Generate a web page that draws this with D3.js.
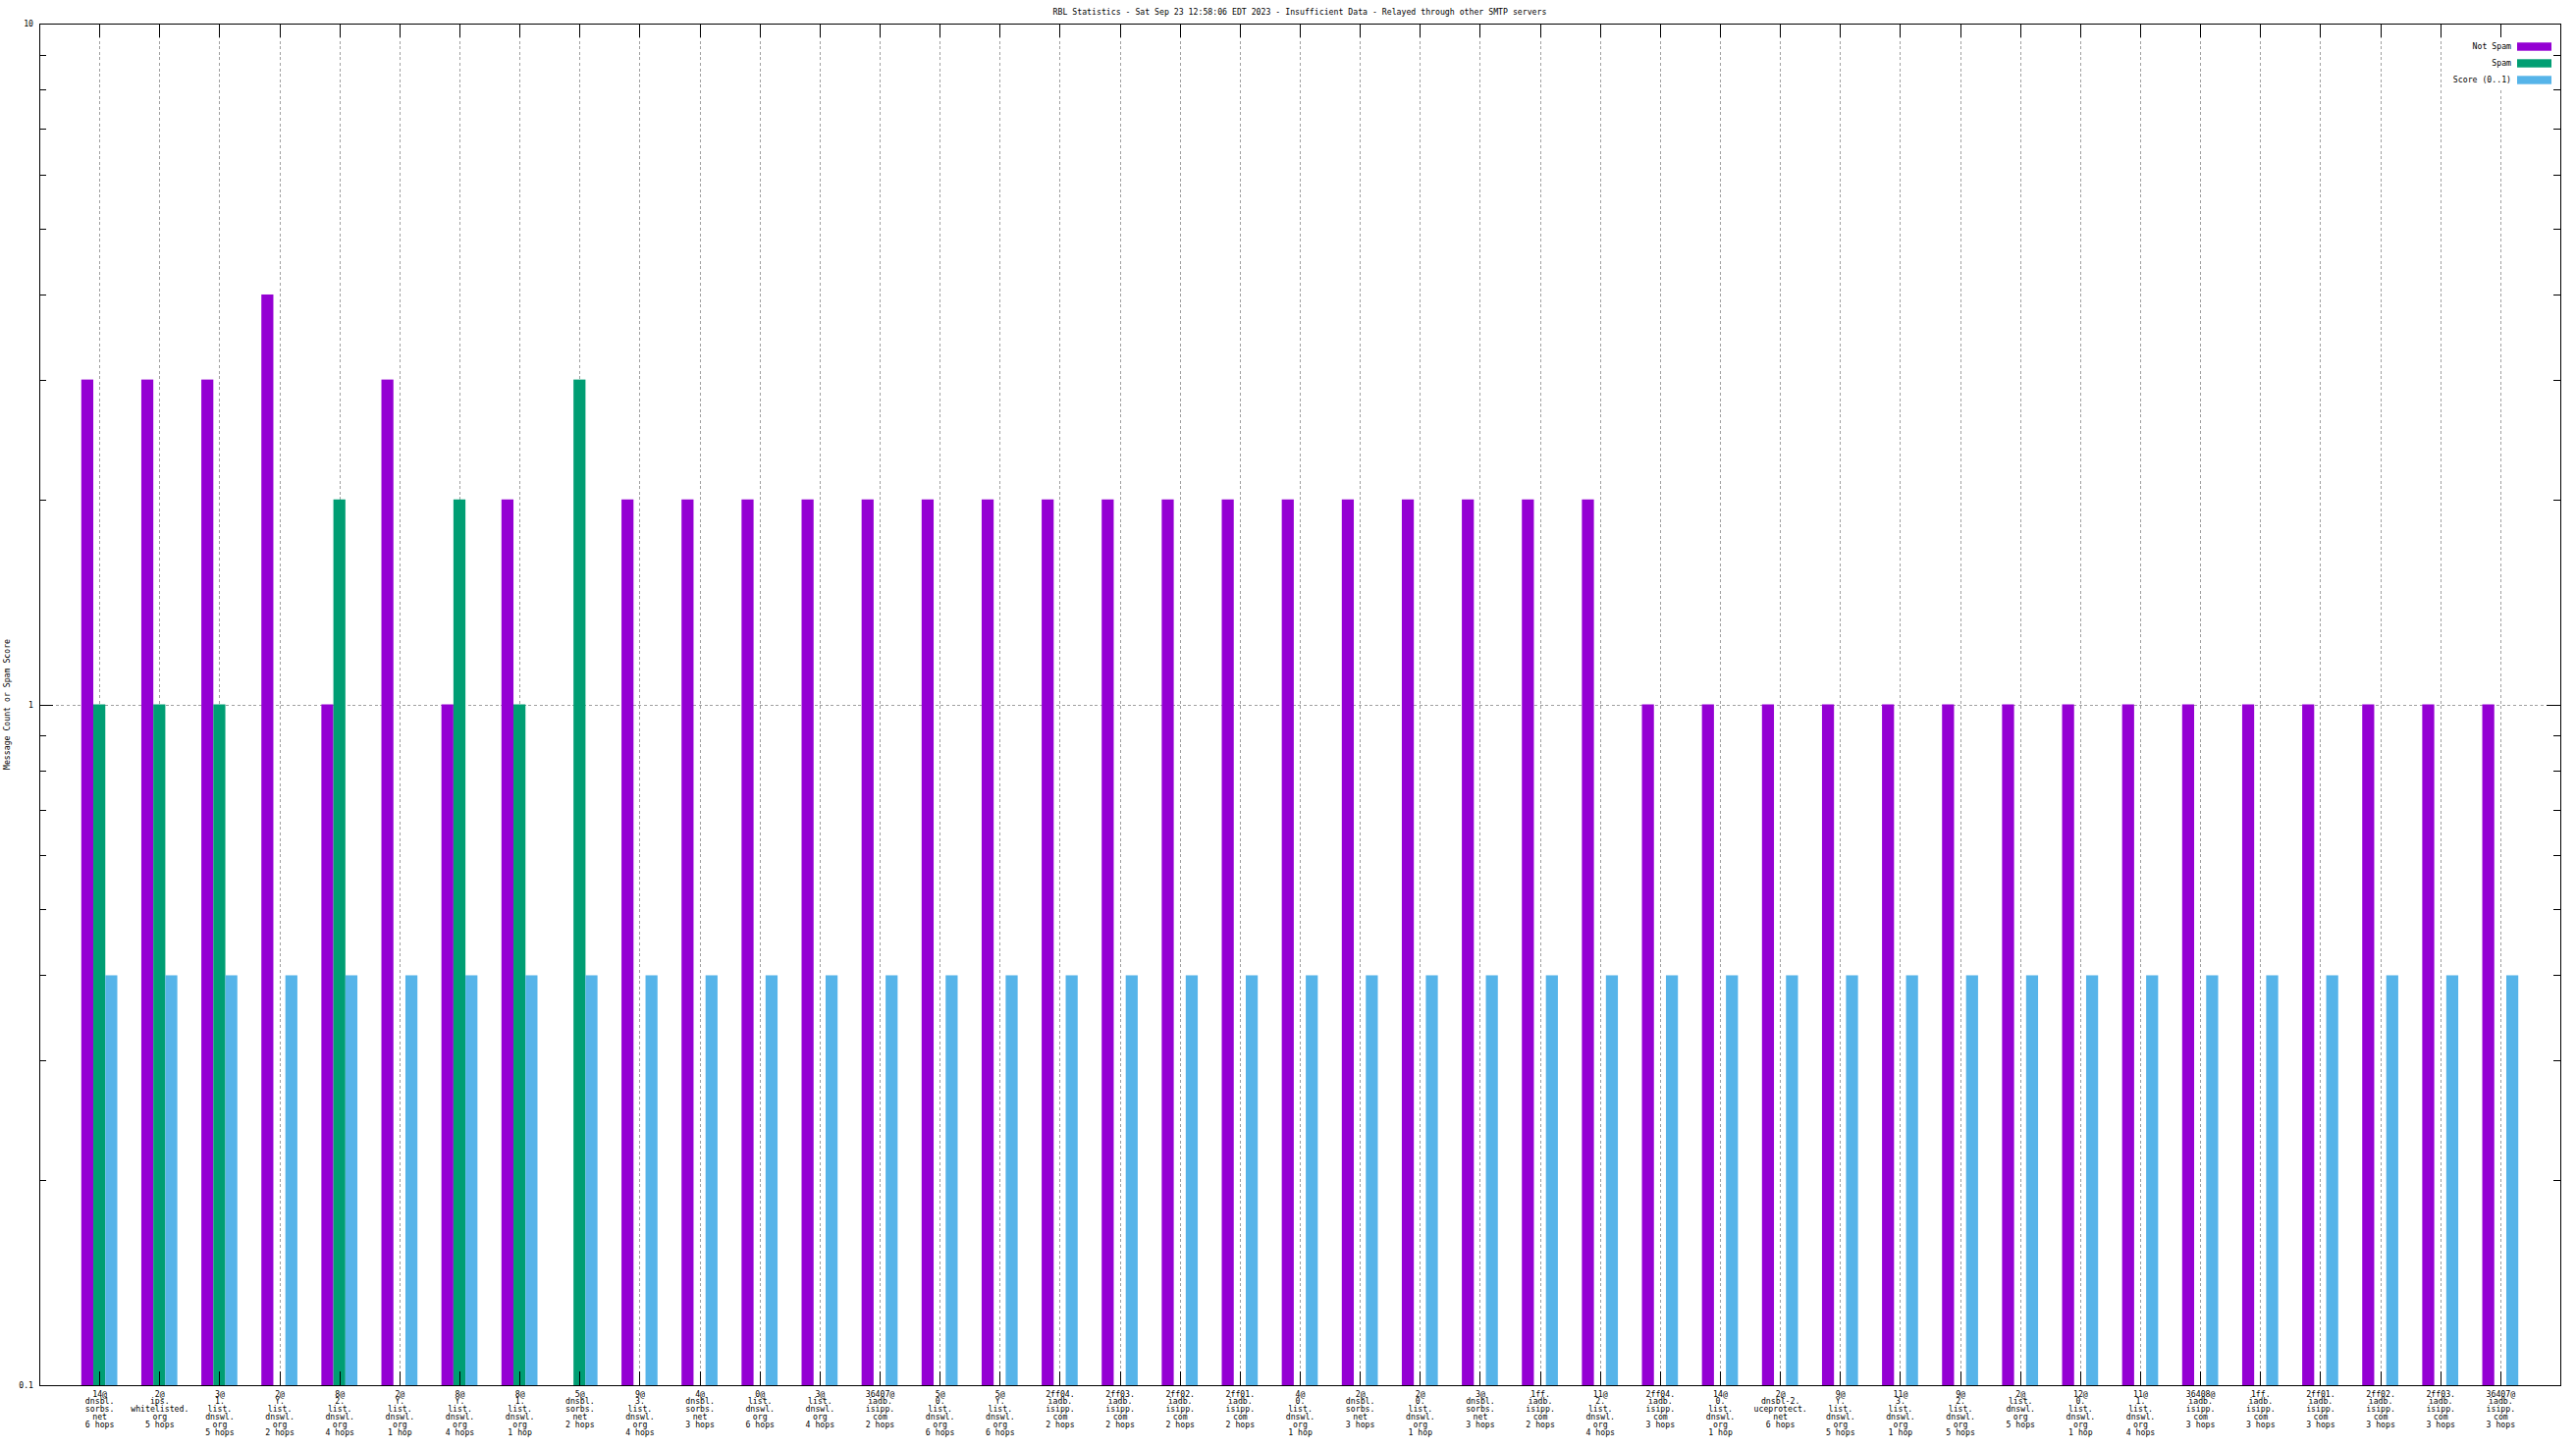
<!DOCTYPE html>
<html>
<head>
<meta charset="utf-8">
<script src="https://cdn.jsdelivr.net/npm/d3@7"></script>
<style>
  html, body { margin: 0; padding: 0; background: #fff; }
  svg { display: block; }
  text { font-family: "DejaVu Sans Mono", "Liberation Mono", monospace; font-size: 8.2px; fill: #000; }
</style>
</head>
<body>
<script>
// ---------------- DATA ----------------
const title = "RBL Statistics - Sat Sep 23 12:58:06 EDT 2023 - Insufficient Data - Relayed through other SMTP servers";
const yLabel = "Message Count or Spam Score";
const seriesNames = ["Not Spam", "Spam", "Score (0..1)"];
const seriesColors = ["#9400d3", "#009e73", "#56b4e9"];

const categories = [
  "14@|dnsbl.|sorbs.|net|6 hops",
  "2@|ips.|whitelisted.|org|5 hops",
  "3@|1.|list.|dnswl.|org|5 hops",
  "2@|Y.|list.|dnswl.|org|2 hops",
  "8@|2.|list.|dnswl.|org|4 hops",
  "2@|Y.|list.|dnswl.|org|1 hop",
  "8@|Y.|list.|dnswl.|org|4 hops",
  "8@|1.|list.|dnswl.|org|1 hop",
  "5@|dnsbl.|sorbs.|net|2 hops",
  "9@|3.|list.|dnswl.|org|4 hops",
  "4@|dnsbl.|sorbs.|net|3 hops",
  "0@|list.|dnswl.|org|6 hops",
  "3@|list.|dnswl.|org|4 hops",
  "36407@|iadb.|isipp.|com|2 hops",
  "5@|0.|list.|dnswl.|org|6 hops",
  "5@|Y.|list.|dnswl.|org|6 hops",
  "2ff04.|iadb.|isipp.|com|2 hops",
  "2ff03.|iadb.|isipp.|com|2 hops",
  "2ff02.|iadb.|isipp.|com|2 hops",
  "2ff01.|iadb.|isipp.|com|2 hops",
  "4@|0.|list.|dnswl.|org|1 hop",
  "2@|dnsbl.|sorbs.|net|3 hops",
  "2@|0.|list.|dnswl.|org|1 hop",
  "3@|dnsbl.|sorbs.|net|3 hops",
  "1ff.|iadb.|isipp.|com|2 hops",
  "11@|2.|list.|dnswl.|org|4 hops",
  "2ff04.|iadb.|isipp.|com|3 hops",
  "14@|0.|list.|dnswl.|org|1 hop",
  "2@|dnsbl-2.|uceprotect.|net|6 hops",
  "9@|Y.|list.|dnswl.|org|5 hops",
  "11@|3.|list.|dnswl.|org|1 hop",
  "9@|2.|list.|dnswl.|org|5 hops",
  "2@|list.|dnswl.|org|5 hops",
  "12@|0.|list.|dnswl.|org|1 hop",
  "11@|1.|list.|dnswl.|org|4 hops",
  "36408@|iadb.|isipp.|com|3 hops",
  "1ff.|iadb.|isipp.|com|3 hops",
  "2ff01.|iadb.|isipp.|com|3 hops",
  "2ff02.|iadb.|isipp.|com|3 hops",
  "2ff03.|iadb.|isipp.|com|3 hops",
  "36407@|iadb.|isipp.|com|3 hops"
];

const notSpam = [3,3,3,4,1,3,1,2,null,
  2,2,2,2,2,2,2,2,2,2,2,2,2,2,2,2,2,
  1,1,1,1,1,1,1,1,1,1,1,1,1,1,1];
const spam = [1,1,1,null,2,null,2,1,3,
  null,null,null,null,null,null,null,null,null,null,null,null,null,null,null,null,null,
  null,null,null,null,null,null,null,null,null,null,null,null,null,null,null];
const score = [0.4,0.4,0.4,0.4,0.4,0.4,0.4,0.4,0.4,
  0.4,0.4,0.4,0.4,0.4,0.4,0.4,0.4,0.4,0.4,0.4,0.4,0.4,0.4,0.4,0.4,0.4,
  0.4,0.4,0.4,0.4,0.4,0.4,0.4,0.4,0.4,0.4,0.4,0.4,0.4,0.4,0.4];

const yMajorTicks = [0.1, 1, 10];
const yMinorTicks = [0.2,0.3,0.4,0.5,0.6,0.7,0.8,0.9,2,3,4,5,6,7,8,9];

// ---------------- LAYOUT ----------------
const W = 2624, H = 1476;
const L = 40, R = 2608, T = 24, B = 1411;
const barW = 0.2;

const svg = d3.select("body").append("svg").attr("width", W).attr("height", H);
svg.append("rect").attr("width", W).attr("height", H).attr("fill", "#fff");

const idx = categories.map((d, i) => i);
const x = d3.scaleLinear().domain([-1, categories.length]).range([L, R]);
const y = d3.scaleLog().domain([0.1, 10]).range([B, T]);

const gridColor = "#a0a0a0";
const dash = "3,2.6";

// grid (behind bars)
const gx = svg.append("g").attr("transform", `translate(0,${B})`)
  .call(d3.axisBottom(x).tickValues(idx).tickSize(-(B - T)).tickFormat(""));
gx.select(".domain").remove();
gx.selectAll(".tick line").attr("stroke", gridColor).attr("stroke-dasharray", dash);

const gy = svg.append("g").attr("transform", `translate(${L},0)`)
  .call(d3.axisLeft(y).tickValues([1]).tickSize(-(R - L)).tickFormat(""));
gy.select(".domain").remove();
gy.selectAll(".tick line").attr("stroke", gridColor).attr("stroke-dasharray", dash);

// bars
const series = [notSpam, spam, score];
series.forEach((vals, k) => {
  const off = (k - 1) * barW;
  svg.append("g").selectAll("rect")
    .data(vals.map((v, i) => ({ v, i })).filter(d => d.v != null))
    .join("rect")
    .attr("x", d => x(d.i + off - barW / 2))
    .attr("width", x(barW) - x(0))
    .attr("y", d => y(d.v))
    .attr("height", d => y(0.1) - y(d.v))
    .attr("fill", seriesColors[k]);
});

// legend background (opaque key box)
const legend = svg.append("g");
legend.append("rect").attr("x", 2492).attr("y", 38).attr("width", R - 2492 - 1).attr("height", 52).attr("fill", "#fff");

// axes: ticks inward
function styleAxis(g) {
  g.select(".domain").remove();
  g.selectAll(".tick line").attr("stroke", "#000");
}
// bottom
const xb = svg.append("g").attr("transform", `translate(0,${B})`)
  .call(d3.axisBottom(x).tickValues(idx).tickSize(-14).tickPadding(0)
    .tickFormat(i => categories[i]));
styleAxis(xb);
xb.selectAll(".tick text").each(function(i) {
  const t = d3.select(this);
  const lines = categories[i].split("|");
  t.text(null).attr("y", 0).attr("dy", null);
  lines.forEach((ln, j) => {
    t.append("tspan").attr("x", 0).attr("y", 11.5 + j * 7.8).text(ln);
  });
});
// top
const xt = svg.append("g").attr("transform", `translate(0,${T})`)
  .call(d3.axisTop(x).tickValues(idx).tickSize(-14).tickFormat(""));
styleAxis(xt);
// left
const yl = svg.append("g").attr("transform", `translate(${L},0)`)
  .call(d3.axisLeft(y).tickValues(yMajorTicks).tickSize(-14).tickPadding(6).tickFormat(d => String(d)));
styleAxis(yl);
yl.selectAll(".tick text").attr("dy", "0.32em");
const ylm = svg.append("g").attr("transform", `translate(${L},0)`)
  .call(d3.axisLeft(y).tickValues(yMinorTicks).tickSize(-7).tickFormat(""));
styleAxis(ylm);
// right
const yr = svg.append("g").attr("transform", `translate(${R},0)`)
  .call(d3.axisRight(y).tickValues(yMajorTicks).tickSize(-14).tickFormat(""));
styleAxis(yr);
const yrm = svg.append("g").attr("transform", `translate(${R},0)`)
  .call(d3.axisRight(y).tickValues(yMinorTicks).tickSize(-7).tickFormat(""));
styleAxis(yrm);

svg.selectAll(".tick line").attr("shape-rendering", "crispEdges");

// border
svg.append("rect").attr("x", L).attr("y", T).attr("width", R - L).attr("height", B - T)
  .attr("fill", "none").attr("stroke", "#000").attr("stroke-width", 1).attr("shape-rendering", "crispEdges");

// legend entries
seriesNames.forEach((name, k) => {
  const cy = 47.5 + k * 17;
  legend.append("text").attr("x", 2558).attr("y", cy).attr("dy", "0.32em")
    .attr("text-anchor", "end").text(name);
  legend.append("rect").attr("x", 2564).attr("y", cy - 4.2).attr("width", 35).attr("height", 8.4)
    .attr("fill", seriesColors[k]);
});

// title
svg.append("text").attr("x", (L + R) / 2).attr("y", 14.5).attr("text-anchor", "middle").text(title);

// y label
svg.append("text").attr("transform", `translate(10,${(T + B) / 2}) rotate(-90)`)
  .attr("text-anchor", "middle").text(yLabel);
</script>
</body>
</html>
